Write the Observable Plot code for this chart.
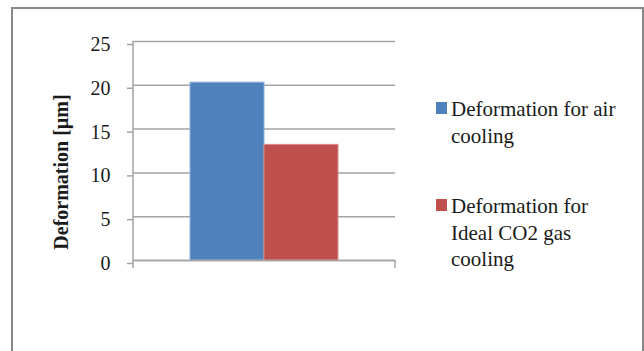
<!DOCTYPE html>
<html>
<head>
<meta charset="utf-8">
<script src="https://cdn.jsdelivr.net/npm/d3@7"></script>
<script src="https://cdn.jsdelivr.net/npm/@observablehq/plot@0.6"></script>
<style>
  html, body { margin: 0; padding: 0; background: #fff; }
  #chart { position: relative; width: 644px; height: 351px; overflow: hidden; font-family: "Liberation Serif", "Times New Roman", serif; }
  #box { position: absolute; left: 11px; top: 7px; width: 629px; height: 400px; border: 2px solid #8a8a8a; box-sizing: content-box; pointer-events: none; }
  #plot { position: absolute; left: 0; top: 0; }
  #legend { position: absolute; left: 436px; top: 96px; font-size: 21px; line-height: 26.5px; color: #1a1a1a; }
  .item { display: flex; align-items: flex-start; }
  .item + .item { margin-top: 44px; }
  .swatch { width: 11px; height: 12px; margin-top: 6px; margin-right: 4px; flex: none; }
</style>
</head>
<body>
<div id="chart">
  <div id="plot"></div>
  <div id="legend"></div>
  <div id="box"></div>
</div>
<script>
// Series shown as side-by-side bars in a single category
const series = ["Deformation for air cooling", "Deformation for Ideal CO2 gas cooling"];
const legendLines = [["Deformation for air", "cooling"], ["Deformation for", "Ideal CO2 gas", "cooling"]];
const values = [20.3, 13.2];
const colors = ["#4F81BD", "#C0504D"];
const outlines = ["#8fb0d9", "#d98a88"];
const yTicks = [0, 5, 10, 15, 20, 25];
const yLabel = "Deformation [µm]";

const data = series.map((s, i) => ({series: s, value: values[i]}));

const plot = Plot.plot({
  width: 644,
  height: 351,
  marginLeft: 133,
  marginRight: 249,
  marginTop: 41,
  marginBottom: 91,
  style: {fontFamily: "Liberation Serif, Times New Roman, serif", fontSize: "20px", color: "#1a1a1a", background: "transparent"},
  x: {domain: series, paddingInner: 0, paddingOuter: 0.765, axis: null},
  y: {domain: [0, 25]},
  color: {domain: series, range: colors},
  marks: [
    Plot.gridY(yTicks, {stroke: "#a3a3a3", strokeOpacity: 1, strokeWidth: 1.5}),
    Plot.barY(data, {x: "series", y: "value", fill: "series", stroke: (d, i) => outlines[i], strokeWidth: 1}),
    Plot.ruleY([0], {stroke: "#a3a3a3", strokeWidth: 1.5}),
    Plot.axisY(yTicks, {tickSize: 6, tickPadding: 17, stroke: "#a3a3a3", strokeWidth: 1.5, dy: 3, label: null}),
    // Rotated axis title, sitting a little below the frame's middle
    Plot.text([yLabel], {
      frameAnchor: "left", rotate: -90, dx: -72, dy: 21,
      textAnchor: "middle", lineAnchor: "middle",
      fontWeight: "bold", fontSize: 20, fill: "#1a1a1a"
    })
  ]
});

// Axis line on the left and category-boundary ticks, placed from the scales
const xs = plot.scale("x"), ys = plot.scale("y");
const y0 = ys.apply(0), yTop = ys.apply(25);
const svg = d3.select(plot);
const g = svg.append("g").attr("stroke", "#a3a3a3").attr("stroke-width", 1.5);
g.append("line").attr("x1", xs.range[0]).attr("x2", xs.range[0]).attr("y1", yTop).attr("y2", y0 + 8);
g.append("line").attr("x1", xs.range[1]).attr("x2", xs.range[1]).attr("y1", y0).attr("y2", y0 + 8);

document.getElementById("plot").appendChild(plot);

// Legend to the right of the plot
const legend = d3.select("#legend");
series.forEach((s, i) => {
  const item = legend.append("div").attr("class", "item");
  item.append("div").attr("class", "swatch").style("background", colors[i]);
  item.append("div").html(legendLines[i].join("<br>"));
});
</script>
</body>
</html>
